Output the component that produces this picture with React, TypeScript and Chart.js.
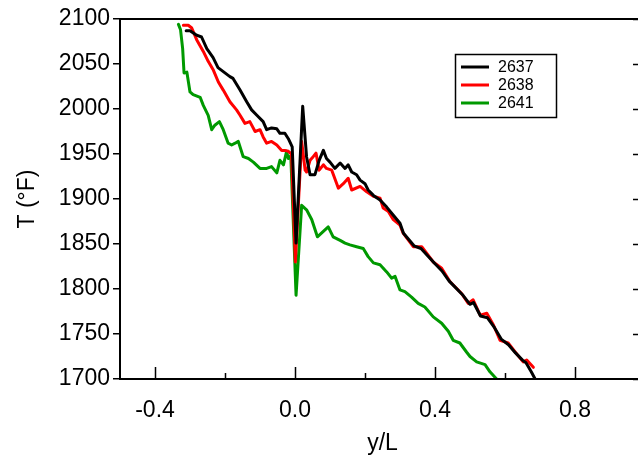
import React, { useEffect, useRef } from "react";
import { Chart, registerables } from "chart.js";

Chart.register(...registerables);

const seriesLabels = ["2637", "2638", "2641"];
const seriesColors = ["#000000", "#ff0000", "#009900"];

const x2637 = [-0.311, -0.300, -0.281, -0.267, -0.252, -0.234, -0.220, -0.186, -0.177, -0.157, -0.138, -0.124, -0.109, -0.091, -0.081, -0.067, -0.052, -0.043, -0.029, -0.019, -0.008, 0.003, 0.022, 0.033, 0.043, 0.057, 0.069, 0.081, 0.090, 0.100, 0.114, 0.129, 0.143, 0.152, 0.162, 0.176, 0.186, 0.200, 0.209, 0.224, 0.243, 0.262, 0.281, 0.300, 0.310, 0.340, 0.360, 0.400, 0.420, 0.440, 0.480, 0.500, 0.510, 0.530, 0.550, 0.570, 0.590, 0.610, 0.630, 0.650, 0.660, 0.675, 0.686];
const t2637 = [2087, 2087, 2082, 2080, 2067, 2057, 2046, 2036, 2034, 2021, 2008, 1999, 1993, 1986, 1977, 1979, 1978, 1973, 1973, 1967, 1958, 1851, 2003, 1947, 1927, 1927, 1943, 1954, 1945, 1941, 1934, 1940, 1934, 1938, 1930, 1927, 1921, 1917, 1910, 1904, 1899, 1891, 1882, 1873, 1862, 1848, 1845, 1828, 1820, 1809, 1793, 1783, 1785, 1770, 1768, 1757, 1744, 1738, 1729, 1721, 1718, 1708, 1700];

const x2638 = [-0.319, -0.305, -0.295, -0.281, -0.262, -0.248, -0.233, -0.219, -0.205, -0.186, -0.167, -0.157, -0.143, -0.129, -0.114, -0.100, -0.091, -0.081, -0.067, -0.052, -0.038, -0.029, -0.019, -0.010, 0.001, 0.019, 0.029, 0.033, 0.043, 0.052, 0.060, 0.069, 0.081, 0.090, 0.105, 0.124, 0.138, 0.152, 0.162, 0.186, 0.205, 0.224, 0.243, 0.252, 0.267, 0.281, 0.300, 0.309, 0.338, 0.362, 0.395, 0.419, 0.443, 0.476, 0.495, 0.509, 0.529, 0.548, 0.567, 0.586, 0.609, 0.629, 0.652, 0.662, 0.681];
const t2638 = [2093, 2093, 2090, 2077, 2064, 2053, 2043, 2030, 2021, 2008, 1999, 1993, 1984, 1986, 1975, 1977, 1969, 1962, 1964, 1960, 1954, 1954, 1953, 1950, 1830, 1964, 1932, 1930, 1943, 1947, 1951, 1932, 1938, 1934, 1932, 1912, 1917, 1923, 1910, 1914, 1908, 1903, 1901, 1890, 1886, 1877, 1871, 1862, 1847, 1847, 1830, 1823, 1808, 1795, 1784, 1788, 1771, 1773, 1760, 1743, 1740, 1730, 1719, 1721, 1713];

const x2641 = [-0.333, -0.327, -0.321, -0.317, -0.309, -0.300, -0.291, -0.271, -0.262, -0.248, -0.238, -0.229, -0.216, -0.205, -0.191, -0.181, -0.171, -0.162, -0.148, -0.133, -0.119, -0.100, -0.081, -0.067, -0.052, -0.043, -0.033, -0.024, -0.019, -0.012, 0.003, 0.019, 0.033, 0.048, 0.064, 0.081, 0.095, 0.109, 0.129, 0.143, 0.157, 0.176, 0.195, 0.209, 0.224, 0.243, 0.262, 0.276, 0.286, 0.300, 0.314, 0.333, 0.352, 0.371, 0.395, 0.419, 0.438, 0.452, 0.471, 0.490, 0.500, 0.519, 0.543, 0.557, 0.576];
const t2641 = [2094, 2088, 2067, 2040, 2041, 2019, 2016, 2013, 2004, 1993, 1977, 1982, 1986, 1977, 1962, 1960, 1962, 1964, 1947, 1945, 1941, 1934, 1934, 1936, 1929, 1943, 1938, 1953, 1945, 1948, 1793, 1893, 1888, 1877, 1858, 1864, 1869, 1858, 1854, 1851, 1849, 1847, 1845, 1836, 1829, 1827, 1819, 1812, 1814, 1799, 1797, 1791, 1784, 1780, 1769, 1762, 1753, 1743, 1740, 1730, 1725, 1719, 1716, 1708, 1700];

const xLabelTicks = [-0.4, 0.0, 0.4, 0.8];
const xMinorTicks = [-0.2, 0.2, 0.6, 1.0];
const yLabelTicks = [1700, 1750, 1800, 1850, 1900, 1950, 2000, 2050, 2100];

const FONT = "'Liberation Sans', Arial, sans-serif";

const framePlugin = {
  id: "frame",
  afterDraw(chart: any) {
    const { ctx, chartArea } = chart;
    const xs = chart.scales.x;
    const ys = chart.scales.y;
    const { left, right, top, bottom } = chartArea;
    ctx.save();
    ctx.strokeStyle = "#000";
    ctx.lineWidth = 2;
    ctx.beginPath();
    ctx.moveTo(left, top);
    ctx.lineTo(right, top);
    ctx.lineTo(right, bottom);
    ctx.lineTo(left, bottom);
    ctx.closePath();
    ctx.stroke();
    ctx.lineWidth = 1.5;
    ctx.beginPath();
    yLabelTicks.forEach((v) => {
      const py = Math.round(ys.getPixelForValue(v)) + 0.5;
      ctx.moveTo(right - 12, py);
      ctx.lineTo(right, py);
    });
    xLabelTicks.forEach((v) => {
      const px = Math.round(xs.getPixelForValue(v)) + 0.5;
      ctx.moveTo(px, bottom);
      ctx.lineTo(px, bottom - 12);
    });
    xMinorTicks.forEach((v) => {
      const px = Math.round(xs.getPixelForValue(v)) + 0.5;
      ctx.moveTo(px, bottom);
      ctx.lineTo(px, bottom - 6);
    });
    ctx.stroke();

    // legend
    const bx = 455.5, by = 54.5, bw = 101, bh = 63;
    ctx.fillStyle = "#fff";
    ctx.fillRect(bx, by, bw, bh);
    ctx.lineWidth = 1.5;
    ctx.strokeStyle = "#000";
    ctx.strokeRect(bx, by, bw, bh);
    ctx.font = "16px " + FONT;
    ctx.textBaseline = "middle";
    ctx.textAlign = "left";
    seriesLabels.forEach((lab, i) => {
      const ly = 67 + i * 18;
      ctx.strokeStyle = seriesColors[i];
      ctx.lineWidth = 3;
      ctx.beginPath();
      ctx.moveTo(461, ly);
      ctx.lineTo(489, ly);
      ctx.stroke();
      ctx.fillStyle = "#000";
      ctx.fillText(lab, 498, ly + 1);
    });
    ctx.restore();
  },
};

function toPoints(xs: number[], ts: number[]) {
  return xs.map((x, i) => ({ x, y: ts[i] }));
}

export default function App() {
  const canvasRef = useRef<HTMLCanvasElement | null>(null);

  useEffect(() => {
    const canvas = canvasRef.current;
    if (!canvas) return;
    const allX = [x2637, x2638, x2641];
    const allT = [t2637, t2638, t2641];
    const chart = new Chart(canvas, {
      type: "line",
      data: {
        datasets: seriesLabels.map((lab, i) => ({
          label: lab,
          data: toPoints(allX[i], allT[i]),
          borderColor: seriesColors[i],
          backgroundColor: seriesColors[i],
          borderWidth: 3,
          borderJoinStyle: "round" as const,
          borderCapStyle: "round" as const,
          pointRadius: 0,
          tension: 0,
          fill: false,
        })),
      },
      options: {
        responsive: false,
        animation: false,
        devicePixelRatio: 1,
        layout: { padding: { left: 0, right: 15, top: 19, bottom: 0 } },
        plugins: { legend: { display: false }, tooltip: { enabled: false } },
        scales: {
          x: {
            type: "linear",
            min: -0.5,
            max: 1.0,
            afterBuildTicks: (s: any) => {
              s.ticks = xLabelTicks.map((v) => ({ value: v }));
            },
            afterFit: (s: any) => {
              s.height = 83;
            },
            ticks: {
              autoSkip: false,
              maxRotation: 0,
              padding: 10,
              color: "#000",
              font: { family: FONT, size: 23 },
              callback: (v: any) => Number(v).toFixed(1),
            },
            grid: { display: false },
            border: { display: false },
            title: {
              display: true,
              text: "y/L",
              color: "#000",
              font: { family: FONT, size: 23 },
              padding: { top: 4, bottom: 5 },
            },
          },
          y: {
            type: "linear",
            min: 1700,
            max: 2100,
            afterBuildTicks: (s: any) => {
              s.ticks = yLabelTicks.map((v) => ({ value: v }));
            },
            afterFit: (s: any) => {
              s.width = 120;
            },
            ticks: {
              autoSkip: false,
              padding: 3,
              color: "#000",
              font: { family: FONT, size: 23 },
              callback: (v: any) => String(v),
            },
            grid: {
              display: true,
              drawOnChartArea: false,
              drawTicks: true,
              tickLength: 7,
              color: "#000",
              lineWidth: 1.5,
            },
            border: { display: false },
            title: {
              display: true,
              text: "T (°F)",
              color: "#000",
              font: { family: FONT, size: 23 },
              padding: { top: 14, bottom: 4 },
            },
          },
        },
      },
      plugins: [framePlugin],
    });
    return () => chart.destroy();
  }, []);

  return (
    <div
      style={{
        position: "fixed",
        left: 0,
        top: 0,
        width: 638,
        height: 462,
        overflow: "hidden",
        background: "#fff",
      }}
    >
      <canvas ref={canvasRef} width={660} height={462} style={{ display: "block" }} />
    </div>
  );
}
